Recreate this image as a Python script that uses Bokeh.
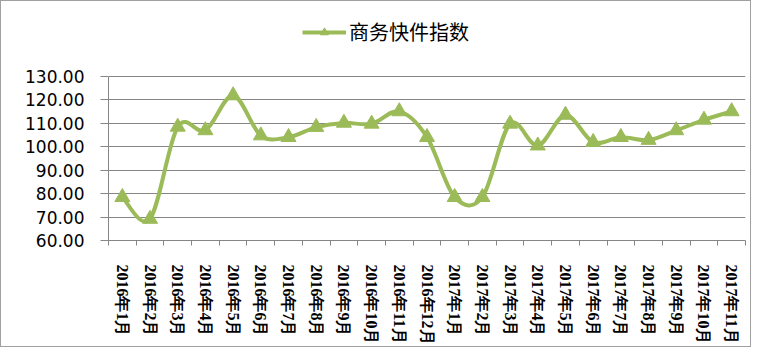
from bokeh.plotting import figure
from bokeh.models import Range1d, FixedTicker, NumeralTickFormatter, Legend, LegendItem, ColumnDataSource
from bokeh.embed import file_html
from bokeh.resources import INLINE

months = ["2016年1月", "2016年2月", "2016年3月", "2016年4月", "2016年5月", "2016年6月",
          "2016年7月", "2016年8月", "2016年9月", "2016年10月", "2016年11月", "2016年12月",
          "2017年1月", "2017年2月", "2017年3月", "2017年4月", "2017年5月", "2017年6月",
          "2017年7月", "2017年8月", "2017年9月", "2017年10月", "2017年11月"]
values = [78.5, 69.2, 108.5, 107.0, 121.9, 104.8, 104.1, 108.4, 110.2, 109.8, 115.1, 104.1,
          78.5, 78.5, 109.8, 100.5, 113.6, 102.0, 104.1, 102.9, 107.0, 111.5, 115.1]
y_ticks = [60, 70, 80, 90, 100, 110, 120, 130]
series_name = "商务快件指数"

GREEN = "#9BBB59"
GRAY = "#868686"

n = len(months)
xs = [i + 0.5 for i in range(n)]
ys = values

# Excel-style smoothed line: cubic Bezier segments (Catmull-Rom control points)
seg = dict(x0=[], y0=[], x1=[], y1=[], cx0=[], cy0=[], cx1=[], cy1=[])
for i in range(n - 1):
    a = i - 1 if i > 0 else i
    d = i + 2 if i + 2 < n else i + 1
    seg["x0"].append(xs[i]); seg["y0"].append(ys[i])
    seg["x1"].append(xs[i + 1]); seg["y1"].append(ys[i + 1])
    seg["cx0"].append(xs[i] + (xs[i + 1] - xs[a]) / 6)
    seg["cy0"].append(ys[i] + (ys[i + 1] - ys[a]) / 6)
    seg["cx1"].append(xs[i + 1] - (xs[d] - xs[i]) / 6)
    seg["cy1"].append(ys[i + 1] - (ys[d] - ys[i]) / 6)

W, H = 751, 347
BL, BR, BT, BB = 107, 7, 13, 108
frame_h = H - BT - BB
# frame extends above the top tick to leave room for the legend (60..130 spans 164px)
y_top = y_ticks[0] + (y_ticks[-1] - y_ticks[0]) * frame_h / 164.0

p = figure(width=W, height=H, output_backend="svg", toolbar_location=None,
           x_range=Range1d(0, n), y_range=Range1d(y_ticks[0], y_top),
           min_border_left=BL, min_border_right=BR, min_border_top=BT, min_border_bottom=BB)
p.outline_line_color = None
p.background_fill_color = "white"
p.border_fill_color = "white"
p.styles = {"border": "1px solid #a0a0a0", "box-sizing": "border-box"}

bez = p.bezier(x0="x0", y0="y0", x1="x1", y1="y1", cx0="cx0", cy0="cy0", cx1="cx1", cy1="cy1",
               source=ColumnDataSource(seg), line_color=GREEN, line_width=4)
sc = p.scatter(xs, ys, marker="triangle", size=15, fill_color=GREEN, line_color=GREEN)

# axes
p.xgrid.visible = False
p.ygrid.grid_line_color = GRAY
p.ygrid.grid_line_width = 1
p.ygrid.ticker = FixedTicker(ticks=y_ticks)

p.yaxis.bounds = (y_ticks[0], y_ticks[-1])
p.yaxis.ticker = FixedTicker(ticks=y_ticks)
p.yaxis.formatter = NumeralTickFormatter(format="0.00")
p.yaxis.axis_line_color = GRAY
p.yaxis.major_tick_line_color = GRAY
p.yaxis.major_tick_out = 8
p.yaxis.major_tick_in = 0
p.yaxis.minor_tick_line_color = None
p.yaxis.major_label_standoff = 16
p.yaxis.major_label_text_font = "DejaVu Sans"
p.yaxis.major_label_text_font_size = "17px"
p.yaxis.major_label_text_color = "black"

p.xaxis.ticker = FixedTicker(ticks=xs, minor_ticks=list(range(n + 1)))
p.xaxis.major_label_overrides = {x: m for x, m in zip(xs, months)}
p.xaxis.major_label_orientation = "vertical"
p.xaxis.axis_line_color = GRAY
p.xaxis.major_tick_line_color = None
p.xaxis.major_tick_out = 0
p.xaxis.major_tick_in = 0
p.xaxis.minor_tick_line_color = GRAY
p.xaxis.minor_tick_out = 5
p.xaxis.minor_tick_in = 0
p.xaxis.major_label_standoff = 19
p.xaxis.major_label_text_font = "Liberation Serif"
p.xaxis.major_label_text_font_style = "bold"
p.xaxis.major_label_text_font_size = "16px"
p.xaxis.major_label_text_color = "black"

legend = Legend(items=[LegendItem(label=series_name, renderers=[bez, sc])],
                location=(194, 194), orientation="horizontal",
                padding=0, margin=0, border_line_color=None, background_fill_alpha=0,
                glyph_width=44, glyph_height=20, label_standoff=3,
                label_text_font="Noto Sans CJK SC", label_text_font_size="20px",
                label_text_color="black")
p.add_layout(legend, "center")

open("out.html", "w").write(file_html(p, INLINE))
